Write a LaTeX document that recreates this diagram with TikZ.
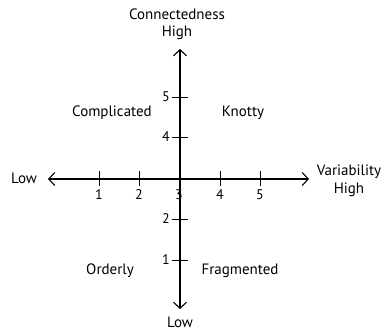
\documentclass[tikz,border=0pt]{standalone}
\usepackage{fontspec}
\setmainfont{PT Sans}
\usetikzlibrary{arrows.meta}
\begin{document}
\begin{tikzpicture}[x=1pt,y=-1pt,
  axis/.style={line width=1.1pt,-{Straight Barb[length=6pt,width=13pt,line width=1.1pt]}},
  tick/.style={line width=1pt},
  lbl/.style={font=\fontsize{15}{17.5}\selectfont,inner sep=0pt,align=center},
  num/.style={font=\fontsize{14}{15}\selectfont,inner sep=0pt}]
\useasboundingbox (0,0) rectangle (383,330);
% axes
\coordinate (origin) at (180,179);
\coordinate (xlo) at (48,179);
\coordinate (xhi) at (309,179);
\coordinate (ytop) at (180,49);
\coordinate (ybot) at (180,309);
\draw[axis] (origin) -- (xlo);
\draw[axis] (origin) -- (xhi);
\draw[axis] (origin) -- (ytop);
\draw[axis] (origin) -- (ybot);
% ticks on the horizontal axis
\foreach \n/\x in {1/99,2/139,4/220,5/260}{
  \draw[tick] (\x,171) -- (\x,186);
  \node[num] (h\n) at (\x,195) {\n};
}
\node[num] (h3) at (179,195) {3};
% ticks on the vertical axis
\foreach \n/\y in {5/97,4/137,2/219,1/260}{
  \draw[tick] (172,\y) -- (188,\y);
  \node[num,anchor=east] (v\n) at (170,\y) {\n};
}
% axis labels
\node[lbl] (conn) at (177,24) {Connectedness\\High};
\node[lbl] (ylow) at (180,322) {Low};
\node[lbl] (xlow) at (24,178) {Low};
\node[lbl] (var) at (349,181) {Variability\\High};
% quadrant labels
\node[lbl] (q1) at (112,113) {Complicated};
\node[lbl] (q2) at (243,113) {Knotty};
\node[lbl] (q3) at (110,271) {Orderly};
\node[lbl] (q4) at (240,271) {Fragmented};
\end{tikzpicture}
\end{document}
